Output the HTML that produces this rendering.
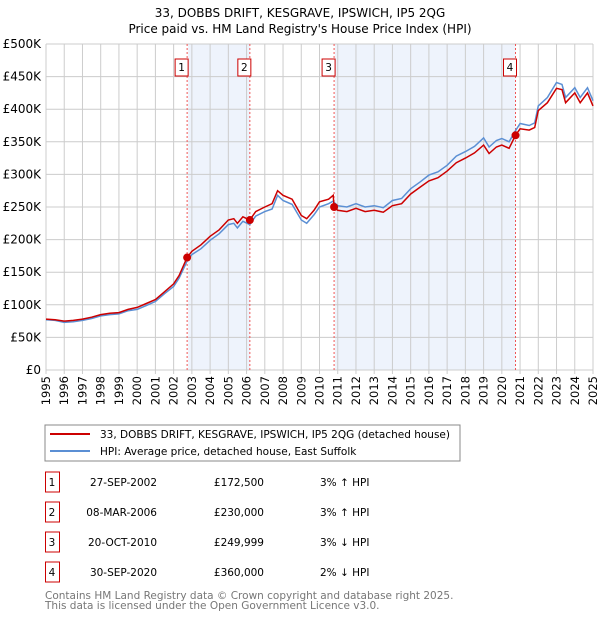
<!DOCTYPE html>
<html><head><meta charset="utf-8"><style>
body{margin:0;background:#fff;font-family:"Liberation Sans","DejaVu Sans",sans-serif;}
svg text{font-family:"DejaVu Sans","Liberation Sans",sans-serif;}
</style></head><body>
<svg id="c" width="600" height="620" xmlns="http://www.w3.org/2000/svg">
<text x="300" y="17" text-anchor="middle" font-size="12">33, DOBBS DRIFT, KESGRAVE, IPSWICH, IP5 2QG</text>
<text x="300" y="33" text-anchor="middle" font-size="12">Price paid vs. HM Land Registry's House Price Index (HPI)</text>
<g id="plot"></g>
<rect x="45" y="425" width="415" height="36" fill="#fff" stroke="#888"/>
<line x1="50" y1="434" x2="90" y2="434" stroke="#cc0000" stroke-width="2"/>
<text x="100" y="438" font-size="10.5">33, DOBBS DRIFT, KESGRAVE, IPSWICH, IP5 2QG (detached house)</text>
<line x1="50" y1="451" x2="90" y2="451" stroke="#5b8fd4" stroke-width="2"/>
<text x="100" y="455" font-size="10.5">HPI: Average price, detached house, East Suffolk</text>
<g id="table" font-size="10.5"></g>
<text x="45" y="599" font-size="10.5" fill="#777">Contains HM Land Registry data © Crown copyright and database right 2025.</text>
<text x="45" y="609" font-size="10.5" fill="#777">This data is licensed under the Open Government Licence v3.0.</text>
</svg>
<script>
const years=[1995,1995.5,1996,1996.5,1997,1997.5,1998,1998.5,1999,1999.5,2000,2000.5,2001,2001.5,2002,2002.3,2002.74,2003,2003.5,2004,2004.5,2005,2005.3,2005.5,2005.8,2006.18,2006.5,2007,2007.4,2007.7,2008,2008.5,2009,2009.3,2009.7,2010,2010.5,2010.75,2010.8,2011,2011.5,2012,2012.5,2013,2013.5,2014,2014.5,2015,2015.5,2016,2016.5,2017,2017.5,2018,2018.5,2019,2019.3,2019.7,2020,2020.4,2020.75,2021,2021.5,2021.8,2022,2022.5,2023,2023.3,2023.5,2024,2024.3,2024.7,2025];
const priceK=[78,77,75,76,78,81,85,87,88,93,96,102,108,120,132,145,172.5,182,192,205,215,230,232,225,235,230,243,250,255,275,268,262,237,232,245,258,262,268,250,245,243,248,243,245,242,252,255,270,280,290,295,305,318,325,333,345,332,342,345,340,360,370,368,372,398,410,432,430,410,425,410,425,405];
const hpiK=[77,76,73,74,76,79,83,85,86,91,93,99,105,117,128,141,167,177,186,199,209,223,225,218,228,223,236,243,247,268,260,254,230,225,238,250,255,259,257,252,250,255,250,252,249,260,263,278,288,299,304,314,328,335,343,356,342,352,355,350,367,378,375,379,405,418,441,438,418,433,418,433,413];
const saleYears=[2002.74,2006.18,2010.8,2020.75];
const saleK=[172.5,230,249.999,360];
const saleLabels=["1","2","3","4"];
const saleDates=["27-SEP-2002","08-MAR-2006","20-OCT-2010","30-SEP-2020"];
const salePrices=["£172,500","£230,000","£249,999","£360,000"];
const saleHpi=["3% ↑ HPI","3% ↑ HPI","3% ↓ HPI","2% ↓ HPI"];
const yTicks=[0,50,100,150,200,250,300,350,400,450,500];
const yTickLabels=["£0","£50K","£100K","£150K","£200K","£250K","£300K","£350K","£400K","£450K","£500K"];
const xTicks=[1995,1996,1997,1998,1999,2000,2001,2002,2003,2004,2005,2006,2007,2008,2009,2010,2011,2012,2013,2014,2015,2016,2017,2018,2019,2020,2021,2022,2023,2024,2025];

const NS="http://www.w3.org/2000/svg";
const X0=46,X1=593,Y0=370,Y1=44;
const xs=y=>X0+(y-1995)/(2025-1995)*(X1-X0);
const ys=v=>Y0-v/500*(Y0-Y1);
const plot=document.getElementById('plot');
function mk(tag,attrs,parent){const e=document.createElementNS(NS,tag);for(const k in attrs)e.setAttribute(k,attrs[k]);(parent||plot).appendChild(e);return e;}
for(const [a,b] of [[0,1],[2,3]]){
 const r=mk('rect',{x:xs(saleYears[a])+1,y:Y1,width:xs(saleYears[b])-xs(saleYears[a])-1,height:Y0-Y1,fill:'#eef3fc'});
 
 
}
xTicks.forEach(t=>{
 const l=mk('line',{x1:xs(t),x2:xs(t),y1:Y1,y2:Y0+4,stroke:'#ccc','stroke-width':1});
 
 
 const tx=mk('text',{x:0,y:0,'font-size':11.5,'text-anchor':'end',transform:`translate(${xs(t)+4},${Y0+6}) rotate(-90)`});
 tx.textContent=t;
 
 
});
yTicks.forEach((t,i)=>{
 const l=mk('line',{x1:X0,x2:X1,y1:ys(t),y2:ys(t),stroke:'#ccc','stroke-width':1});
 
 
 const tx=mk('text',{x:X0-5,y:ys(t)+4,'font-size':12,'text-anchor':'end'});
 tx.textContent=yTickLabels[i];
 
 
});
saleYears.forEach((s,i)=>{
 const l=mk('line',{x1:xs(s),x2:xs(s),y1:Y1,y2:Y0,stroke:'#e55','stroke-width':1,'stroke-dasharray':'2,2'});
 
 
 const r=mk('rect',{x:xs(s)-12,y:59,width:13,height:17,fill:'#fff',stroke:'#cc0000'});
 
 
 const t=mk('text',{x:xs(s)-5.5,y:71,'font-size':10.5,'text-anchor':'middle'});
 t.textContent=saleLabels[i];
 
 
});
const path=(arr)=>arr.map((v,i)=>(i?'L':'M')+xs(years[i]).toFixed(1)+','+ys(v).toFixed(1)).join('');
const hl=mk('path',{d:path(hpiK),fill:'none',stroke:'#5b8fd4','stroke-width':1.5});


const pl=mk('path',{d:path(priceK),fill:'none',stroke:'#cc0000','stroke-width':1.5});


saleYears.forEach((s,i)=>{
 const c=mk('circle',{cx:xs(s),cy:ys(saleK[i]),r:4,fill:'#cc0000'});
 
 
});
const tb=document.getElementById('table');
saleLabels.forEach((lab,i)=>{
 const y=483+i*30;
 const r=mk('rect',{x:45.5,y:y-11,width:14,height:20,fill:'#fff',stroke:'#cc0000'},tb);
 
 
 const cols=[[52,lab,'middle'],[157,saleDates[i],'end'],[264,salePrices[i],'end'],[320,saleHpi[i],'start']];
 cols.forEach(([x,txt,an],j)=>{
  const t=mk('text',{x:x,y:y+3,'text-anchor':an},tb);
  t.textContent=txt;
  
  
 });
});
</script>
</body></html>
